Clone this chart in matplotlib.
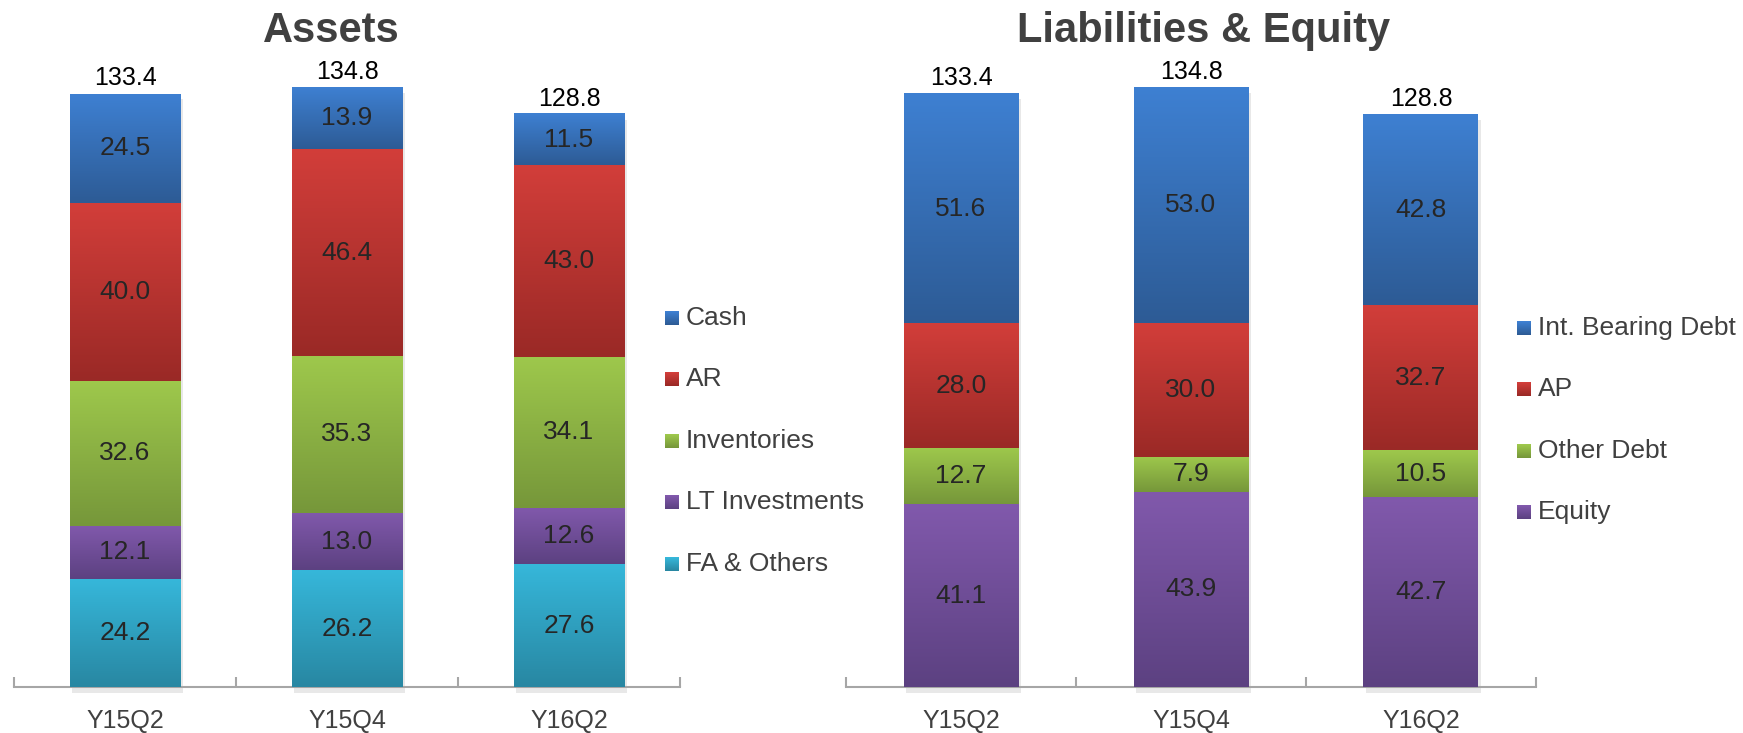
import matplotlib.pyplot as plt
import matplotlib.patheffects as pe
from matplotlib.colors import LinearSegmentedColormap
from matplotlib.patches import Rectangle
import numpy as np

plt.rcParams['font.family'] = ['Liberation Sans', 'DejaVu Sans']

# Data
periods = ['Y15Q2', 'Y15Q4', 'Y16Q2']

# Assets (bottom to top)
fa_others = [24.2, 26.2, 27.6]
lt_invest = [12.1, 13.0, 12.6]
inventories = [32.6, 35.3, 34.1]
ar = [40.0, 46.4, 43.0]
cash = [24.5, 13.9, 11.5]
asset_totals = [133.4, 134.8, 128.8]

# Liabilities & equity (bottom to top)
equity = [41.1, 43.9, 42.7]
other_debt = [12.7, 7.9, 10.5]
ap = [28.0, 30.0, 32.7]
ib_debt = [51.6, 53.0, 42.8]
liab_totals = [133.4, 134.8, 128.8]

# (top, bottom) gradient colours
BLUE = ('#3E80D2', '#2D5B95')
RED = ('#D23E3A', '#9A2926')
GREEN = ('#9EC84C', '#76973A')
PURPLE = ('#8159AC', '#5C4181')
TEAL = ('#36B7DA', '#2887A2')

TEXT = '#404040'
AXIS = '#A6A6A6'

W, H = 1743, 733
fig = plt.figure(figsize=(W / 100, H / 100), dpi=100)

grad = np.linspace(0, 1, 256).reshape(-1, 1)


def draw_stack(ax, series, colors, totals):
    x = np.arange(len(periods))
    bottom = np.zeros(len(periods))
    for vals, (top_c, bot_c) in zip(series, colors):
        bars = ax.bar(x, vals, 0.5, bottom=bottom, color=bot_c, zorder=2,
                      clip_on=False,
                      path_effects=[pe.SimplePatchShadow(offset=(2, -4), shadow_rgbFace='k', alpha=0.09),
                                    pe.Normal()])
        cmap = LinearSegmentedColormap.from_list('seg', [bot_c, top_c])
        for rect, v in zip(bars, vals):
            x0, y0 = rect.get_x(), rect.get_y()
            w, h = rect.get_width(), rect.get_height()
            ax.imshow(grad, cmap=cmap, extent=(x0, x0 + w, y0, y0 + h), origin='lower',
                      aspect='auto', zorder=3, interpolation='bilinear')
            ax.text(x0 + w / 2, y0 + h / 2, f'{v:.1f}', ha='center', va='center',
                    fontsize=19, color='#262626', zorder=4)
        bottom += np.array(vals)
    for xi, t in zip(x, totals):
        ax.annotate(f'{t:.1f}', xy=(xi, t), xytext=(0, 6), textcoords='offset points',
                    ha='center', va='baseline', fontsize=18, color='black')

    ax.set_xlim(-0.5, len(periods) - 0.5)
    ax.set_ylim(0, 150)
    for s in ['left', 'top', 'right']:
        ax.spines[s].set_visible(False)
    ax.spines['bottom'].set_color(AXIS)
    ax.spines['bottom'].set_linewidth(1.5)
    ax.set_yticks([])
    ax.set_xticks(x)
    ax.set_xticklabels(periods, fontsize=18, color=TEXT)
    ax.tick_params(axis='x', which='major', length=0, pad=16)
    ax.set_xticks(np.arange(len(periods) + 1) - 0.5, minor=True)
    ax.tick_params(axis='x', which='minor', direction='in', length=7, width=1.5, color=AXIS)
    ax.patch.set_alpha(0)


def draw_legend(names, colors, mx, tx, ys):
    size = 14
    for name, (top_c, bot_c), y in zip(names, colors, ys):
        # small square with the same vertical shading as the bars
        cmap = LinearSegmentedColormap.from_list('key', [top_c, bot_c])
        for i in range(size):
            fig.add_artist(Rectangle((mx / W, 1 - (y - size / 2 + i + 1) / H), size / W, 1 / H,
                                     transform=fig.transFigure, facecolor=cmap(i / (size - 1)),
                                     edgecolor='none'))
        fig.text(tx / W, 1 - y / H, name, ha='left', va='center', fontsize=19, color=TEXT)


ax1 = fig.add_axes([14 / W, 46 / H, 666 / W, 667 / H])
draw_stack(ax1, [fa_others, lt_invest, inventories, ar, cash],
           [TEAL, PURPLE, GREEN, RED, BLUE], asset_totals)

ax2 = fig.add_axes([846 / W, 46 / H, 690 / W, 667 / H])
draw_stack(ax2, [equity, other_debt, ap, ib_debt],
           [PURPLE, GREEN, RED, BLUE], liab_totals)

fig.text(331 / W, 1 - 42 / H, 'Assets', ha='center', va='baseline',
         fontsize=30, fontweight='bold', color=TEXT)
fig.text(1204 / W, 1 - 42 / H, 'Liabilities & Equity', ha='center', va='baseline',
         fontsize=30, fontweight='bold', color=TEXT)

draw_legend(['Cash', 'AR', 'Inventories', 'LT Investments', 'FA & Others'],
            [BLUE, RED, GREEN, PURPLE, TEAL], 665, 686, [318, 379, 441, 502, 564])
draw_legend(['Int. Bearing Debt', 'AP', 'Other Debt', 'Equity'],
            [BLUE, RED, GREEN, PURPLE], 1517, 1538, [328, 389, 451, 512])

fig.savefig('out.png', dpi=100, facecolor='white')
